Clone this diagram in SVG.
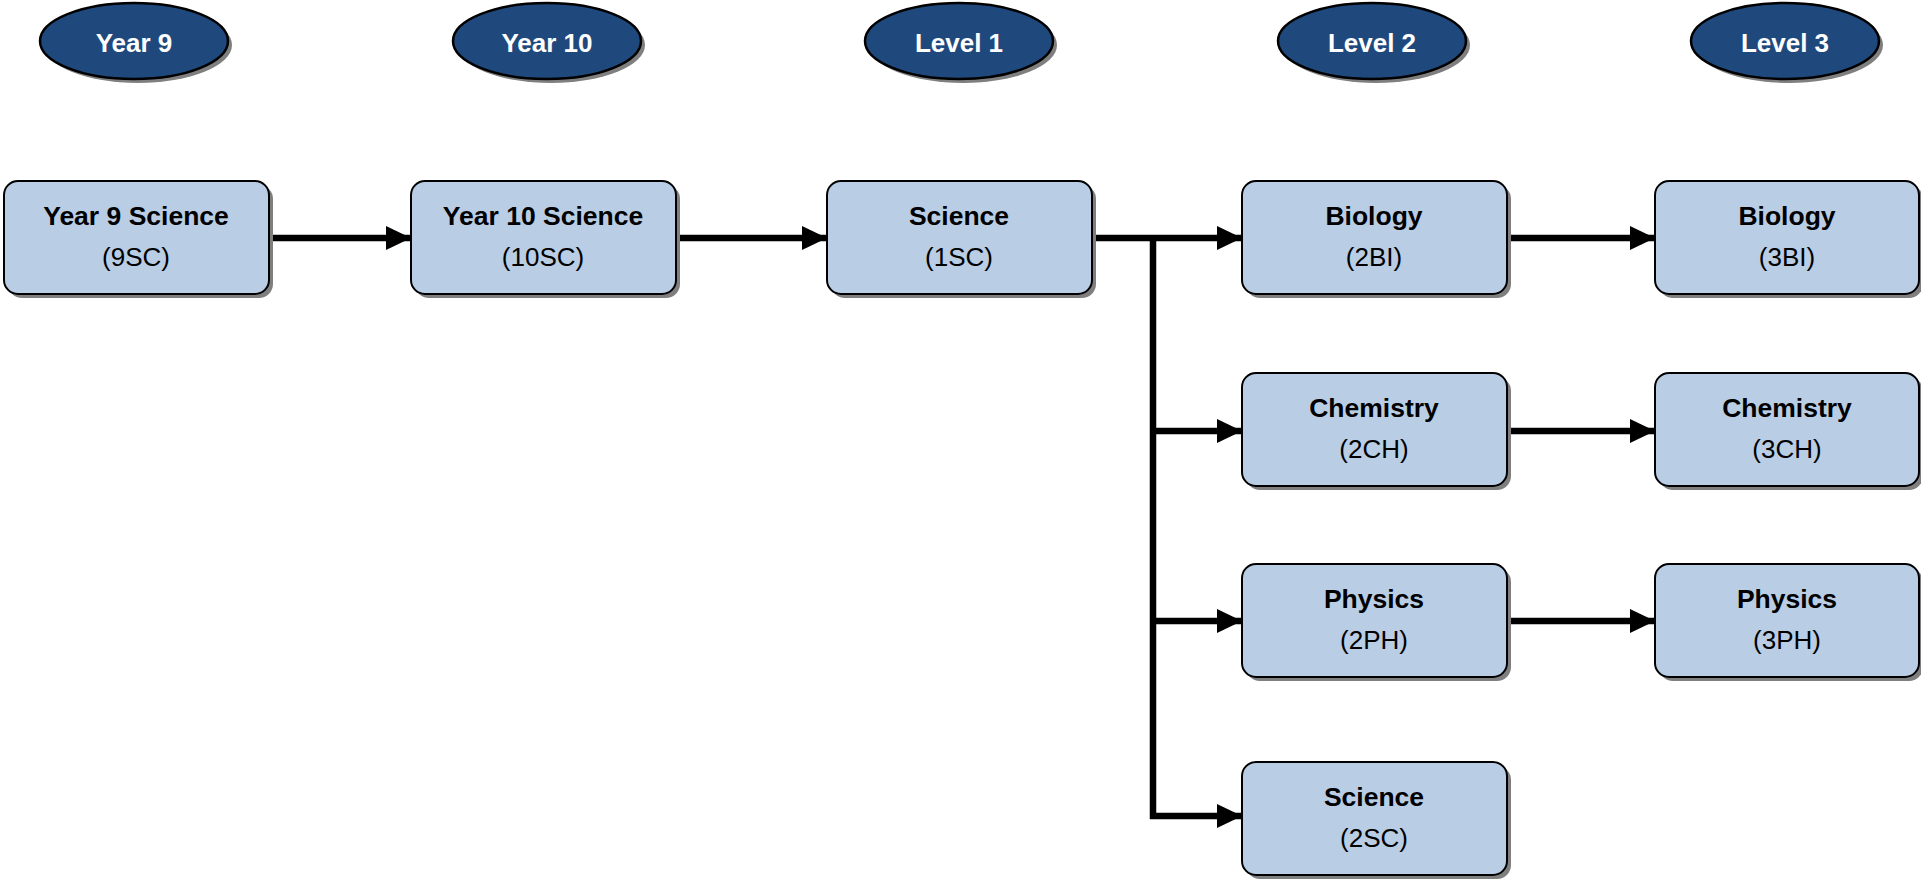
<svg xmlns="http://www.w3.org/2000/svg" width="1921" height="882" viewBox="0 0 1921 882">
<defs>
<style>
.bg{fill:#ffffff}
.ell{fill:#1f497d;stroke:#000;stroke-width:2.5}
.esh{fill:#7f7f7f}
.box{fill:#b9cde5;stroke:#000;stroke-width:2}
.bsh{fill:#7f7f7f}
.et{font-family:"Liberation Sans",Arial,sans-serif;font-weight:bold;font-size:26px;fill:#fff;text-anchor:middle}
.t1{font-family:"Liberation Sans",Arial,sans-serif;font-weight:bold;font-size:26.5px;fill:#000;text-anchor:middle}
.t2{font-family:"Liberation Sans",Arial,sans-serif;font-size:26px;fill:#000;text-anchor:middle}
.con{fill:none;stroke:#000;stroke-width:6.5;stroke-linejoin:miter}
</style>
<marker id="ah" markerWidth="25" markerHeight="24" refX="25" refY="12" orient="auto" markerUnits="userSpaceOnUse">
<path d="M0,0 L25,12 L0,24 Z" fill="#000"/>
</marker>
</defs>
<rect class="bg" x="0" y="0" width="1921" height="882"/>

<g id="hdr-year9">
<ellipse class="esh" cx="138" cy="45" rx="94" ry="38"/>
<ellipse class="ell" cx="134" cy="41" rx="94" ry="38"/>
<text class="et" x="134" y="52">Year 9</text>
</g>
<g id="hdr-year10">
<ellipse class="esh" cx="551" cy="45" rx="94" ry="38"/>
<ellipse class="ell" cx="547" cy="41" rx="94" ry="38"/>
<text class="et" x="547" y="52">Year 10</text>
</g>
<g id="hdr-level1">
<ellipse class="esh" cx="963" cy="45" rx="94" ry="38"/>
<ellipse class="ell" cx="959" cy="41" rx="94" ry="38"/>
<text class="et" x="959" y="52">Level 1</text>
</g>
<g id="hdr-level2">
<ellipse class="esh" cx="1376" cy="45" rx="94" ry="38"/>
<ellipse class="ell" cx="1372" cy="41" rx="94" ry="38"/>
<text class="et" x="1372" y="52">Level 2</text>
</g>
<g id="hdr-level3">
<ellipse class="esh" cx="1789" cy="45" rx="94" ry="38"/>
<ellipse class="ell" cx="1785" cy="41" rx="94" ry="38"/>
<text class="et" x="1785" y="52">Level 3</text>
</g>

<g id="connectors">
<line class="con" x1="268" y1="238" x2="411" y2="238" marker-end="url(#ah)"/>
<line class="con" x1="675" y1="238" x2="827" y2="238" marker-end="url(#ah)"/>
<line class="con" x1="1092" y1="238" x2="1242" y2="238" marker-end="url(#ah)"/>
<line class="con" x1="1153" y1="238" x2="1153" y2="819"/>
<line class="con" x1="1153" y1="431" x2="1242" y2="431" marker-end="url(#ah)"/>
<line class="con" x1="1153" y1="621" x2="1242" y2="621" marker-end="url(#ah)"/>
<line class="con" x1="1150" y1="816" x2="1242" y2="816" marker-end="url(#ah)"/>
<line class="con" x1="1506" y1="238" x2="1655" y2="238" marker-end="url(#ah)"/>
<line class="con" x1="1506" y1="431" x2="1655" y2="431" marker-end="url(#ah)"/>
<line class="con" x1="1506" y1="621" x2="1655" y2="621" marker-end="url(#ah)"/>
</g>

<g id="n-9sc">
<rect class="bsh" x="8" y="185" width="265" height="113" rx="14"/>
<rect class="box" x="4" y="181" width="265" height="113" rx="14"/>
<text class="t1" x="136" y="225">Year 9 Science</text>
<text class="t2" x="136" y="266">(9SC)</text>
</g>
<g id="n-10sc">
<rect class="bsh" x="415" y="185" width="265" height="113" rx="14"/>
<rect class="box" x="411" y="181" width="265" height="113" rx="14"/>
<text class="t1" x="543" y="225">Year 10 Science</text>
<text class="t2" x="543" y="266">(10SC)</text>
</g>
<g id="n-1sc">
<rect class="bsh" x="831" y="185" width="265" height="113" rx="14"/>
<rect class="box" x="827" y="181" width="265" height="113" rx="14"/>
<text class="t1" x="959" y="225">Science</text>
<text class="t2" x="959" y="266">(1SC)</text>
</g>
<g id="n-2bi">
<rect class="bsh" x="1246" y="185" width="265" height="113" rx="14"/>
<rect class="box" x="1242" y="181" width="265" height="113" rx="14"/>
<text class="t1" x="1374" y="225">Biology</text>
<text class="t2" x="1374" y="266">(2BI)</text>
</g>
<g id="n-2ch">
<rect class="bsh" x="1246" y="377" width="265" height="113" rx="14"/>
<rect class="box" x="1242" y="373" width="265" height="113" rx="14"/>
<text class="t1" x="1374" y="417">Chemistry</text>
<text class="t2" x="1374" y="458">(2CH)</text>
</g>
<g id="n-2ph">
<rect class="bsh" x="1246" y="568" width="265" height="113" rx="14"/>
<rect class="box" x="1242" y="564" width="265" height="113" rx="14"/>
<text class="t1" x="1374" y="608">Physics</text>
<text class="t2" x="1374" y="649">(2PH)</text>
</g>
<g id="n-2sc">
<rect class="bsh" x="1246" y="766" width="265" height="113" rx="14"/>
<rect class="box" x="1242" y="762" width="265" height="113" rx="14"/>
<text class="t1" x="1374" y="806">Science</text>
<text class="t2" x="1374" y="847">(2SC)</text>
</g>
<g id="n-3bi">
<rect class="bsh" x="1659" y="185" width="264" height="113" rx="14"/>
<rect class="box" x="1655" y="181" width="264" height="113" rx="14"/>
<text class="t1" x="1787" y="225">Biology</text>
<text class="t2" x="1787" y="266">(3BI)</text>
</g>
<g id="n-3ch">
<rect class="bsh" x="1659" y="377" width="264" height="113" rx="14"/>
<rect class="box" x="1655" y="373" width="264" height="113" rx="14"/>
<text class="t1" x="1787" y="417">Chemistry</text>
<text class="t2" x="1787" y="458">(3CH)</text>
</g>
<g id="n-3ph">
<rect class="bsh" x="1659" y="568" width="264" height="113" rx="14"/>
<rect class="box" x="1655" y="564" width="264" height="113" rx="14"/>
<text class="t1" x="1787" y="608">Physics</text>
<text class="t2" x="1787" y="649">(3PH)</text>
</g>
</svg>
